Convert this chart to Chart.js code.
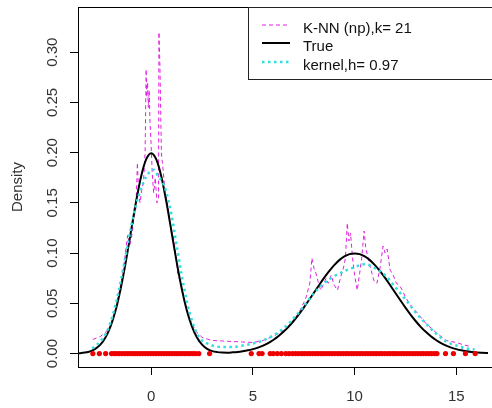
<!DOCTYPE html>
<html>
<head>
<meta charset="utf-8">
<script src="https://cdn.jsdelivr.net/npm/chart.js@4/dist/chart.umd.min.js"></script>
<style>
    html, body { margin: 0; padding: 0; background: #fff; }
    canvas { display: block; }
</style>
</head>
<body>
<canvas id="chart" width="492" height="408"></canvas>
<script>
// true mixture density
const trueX = [-3.75, -3.5, -3.25, -3, -2.75, -2.5, -2.25, -2, -1.75, -1.5, -1.25, -1, -0.75, -0.5, -0.25, 0,
    0.25, 0.5, 0.75, 1, 1.25, 1.5, 1.75, 2, 2.25, 2.5, 2.75, 3, 3.25, 3.5, 3.75, 4, 4.25, 4.5, 4.75, 5,
    5.25, 5.5, 5.75, 6, 6.25, 6.5, 6.75, 7, 7.25, 7.5, 7.75, 8, 8.25, 8.5, 8.75, 9, 9.25, 9.5, 9.75, 10,
    10.25, 10.5, 10.75, 11, 11.25, 11.5, 11.75, 12, 12.25, 12.5, 12.75, 13, 13.25, 13.5, 13.75, 14,
    14.25, 14.5, 14.75, 15, 15.25, 15.5, 15.75, 16, 16.5, 17];
const trueY = [0.0002, 0.0004, 0.001, 0.0022, 0.0046, 0.0088, 0.0159, 0.027, 0.0431, 0.0648, 0.0913, 0.121, 0.1506, 0.176, 0.1933, 0.1995,
    0.1933, 0.176, 0.1506, 0.121, 0.0913, 0.0648, 0.0431, 0.027, 0.016, 0.0089, 0.0047, 0.0024, 0.0014, 0.001, 0.0009, 0.0012, 0.0016, 0.0023, 0.0032, 0.0044,
    0.0059, 0.0079, 0.0104, 0.0135, 0.0172, 0.0216, 0.0266, 0.0324, 0.0388, 0.0457, 0.053, 0.0605, 0.068, 0.0753, 0.082, 0.088, 0.093, 0.0967, 0.099, 0.0997,
    0.099, 0.0967, 0.093, 0.088, 0.082, 0.0753, 0.068, 0.0605, 0.053, 0.0457, 0.0388, 0.0324, 0.0266, 0.0216, 0.0172, 0.0135,
    0.0104, 0.0079, 0.0059, 0.0044, 0.0032, 0.0023, 0.0016, 0.0011, 0.0005, 0.0002];

// K-NN estimate (magenta, dashed)
const knnX = [-2.87, -2.5, -2.2, -2, -1.8, -1.6, -1.45, -1.3, -1.2, -1.15, -1.05, -0.95, -0.85, -0.75, -0.68, -0.62,
    -0.55, -0.45, -0.38, -0.3, -0.25, -0.22, -0.18, -0.14, -0.1, -0.06, -0.02, 0.05, 0.12, 0.2, 0.28, 0.36,
    0.38, 0.43, 0.5, 0.55, 0.62, 0.7, 0.8, 0.9, 1, 1.1, 1.2, 1.3, 1.45, 1.6, 1.8, 2, 2.2, 2.5, 3, 3.5,
    4, 4.5, 5, 5.5, 6, 6.5, 6.9, 7.3, 7.6, 7.8, 7.9, 8, 8.1, 8.2, 8.33, 8.45, 8.6, 8.7, 8.85, 9, 9.16,
    9.3, 9.45, 9.55, 9.64, 9.72, 9.8, 9.9, 10, 10.13, 10.25, 10.35, 10.47, 10.55, 10.7, 10.85, 10.96,
    11.1, 11.25, 11.4, 11.5, 11.6, 11.75, 11.9, 12.05, 12.2, 12.35, 12.5, 12.8, 13.1, 13.5, 14, 14.5,
    15, 15.3, 15.7];
const knnY = [0.014, 0.017, 0.022, 0.028, 0.04, 0.058, 0.075, 0.095, 0.112, 0.118, 0.108, 0.118, 0.135, 0.145, 0.19, 0.16,
    0.15, 0.165, 0.17, 0.2, 0.283, 0.255, 0.27, 0.245, 0.262, 0.23, 0.215, 0.18, 0.16, 0.175, 0.15, 0.155,
    0.32, 0.285, 0.2, 0.19, 0.175, 0.16, 0.15, 0.135, 0.122, 0.115, 0.1, 0.08, 0.07, 0.055, 0.04, 0.03, 0.022, 0.016, 0.013, 0.0125,
    0.012, 0.0115, 0.011, 0.013, 0.017, 0.023, 0.03, 0.042, 0.055, 0.07, 0.095, 0.085, 0.08, 0.072, 0.063, 0.068, 0.075, 0.07, 0.078, 0.068, 0.063,
    0.075, 0.085, 0.095, 0.13, 0.112, 0.12, 0.095, 0.078, 0.063, 0.08, 0.095, 0.122, 0.105, 0.092, 0.08, 0.072,
    0.07, 0.085, 0.107, 0.1, 0.104, 0.083, 0.078, 0.07, 0.068, 0.063, 0.056, 0.047, 0.04, 0.03, 0.021, 0.013,
    0.011, 0.009, 0.007];

// kernel estimate (cyan, dotted)
const kernelX = [-2.9, -2.5, -2.25, -2, -1.75, -1.5, -1.25, -1, -0.75, -0.5, -0.25, 0, 0.15, 0.35, 0.55, 0.75,
    1, 1.25, 1.5, 1.75, 2, 2.25, 2.5, 2.75, 3, 3.5, 4, 4.5, 5, 5.5, 6, 6.5, 7, 7.5, 8, 8.5, 9, 9.5,
    10, 10.5, 11, 11.5, 12, 12.5, 13, 13.5, 14, 14.5, 15, 15.5, 15.9];
const kernelY = [0.005, 0.012, 0.019, 0.031, 0.049, 0.072, 0.098, 0.125, 0.148, 0.164, 0.176, 0.182, 0.183, 0.176, 0.171, 0.16,
    0.138, 0.108, 0.078, 0.052, 0.033, 0.02, 0.013, 0.01, 0.008, 0.0065, 0.0065, 0.008, 0.01, 0.013, 0.018, 0.025, 0.035, 0.047, 0.06, 0.07, 0.077, 0.082,
    0.086, 0.089, 0.085, 0.078, 0.066, 0.054, 0.041, 0.03, 0.02, 0.012, 0.008, 0.005, 0.004];

// sample points on the zero line
const rugX = [-2.87, -2.55, -2.24, -1.95, -1.82, -1.7, -1.57, -1.44, -1.3, -1.17, -1.05, -0.92, -0.8, -0.67, -0.54,
    -0.41, -0.28, -0.16, -0.03, 0.1, 0.23, 0.36, 0.49, 0.62, 0.75, 0.88, 1.01, 1.14, 1.27, 1.4, 1.53, 1.66,
    1.79, 1.92, 2.05, 2.18, 2.34, 2.87, 4.92, 5.3, 5.45, 5.85, 6.0, 6.2, 6.4, 6.62, 6.78, 6.95, 7.1, 7.25,
    7.4, 7.53, 7.67, 7.8, 7.94, 8.08, 8.21, 8.35, 8.48, 8.62, 8.76, 8.9, 9.03, 9.17, 9.3, 9.44, 9.58, 9.71,
    9.85, 9.98, 10.12, 10.26, 10.39, 10.53, 10.66, 10.8, 10.94, 11.07, 11.21, 11.34, 11.48, 11.62, 11.75,
    11.89, 12.02, 12.16, 12.3, 12.43, 12.57, 12.7, 12.84, 12.98, 13.11, 13.25, 13.38, 13.52, 13.66, 13.79,
    13.93, 14.05, 14.47, 14.86, 15.45, 15.93];

const xTickValues = [0, 5, 10, 15];
const yTickValues = [0, 0.05, 0.1, 0.15, 0.2, 0.25, 0.3];
const yTickLabels = ["0.00", "0.05", "0.10", "0.15", "0.20", "0.25", "0.30"];
const legendLabels = ["K-NN (np),k= 21", "True", "kernel,h= 0.97"];

const FONT = "'Liberation Sans', Arial, sans-serif";
const MAGENTA = "#e020e0";
const CYAN = "#30dede";

const toPoints = (xs, ys) => xs.map((x, i) => ({ x, y: ys[i] }));

const framePlugin = {
    id: "r-frame",
    afterDraw(chart) {
        const { ctx, chartArea, scales: { y } } = chart;
        ctx.save();

        // plot box (right side runs off the picture)
        ctx.strokeStyle = "#000";
        ctx.lineWidth = 1;
        ctx.strokeRect(chartArea.left + 0.5, chartArea.top + 0.5, 520, chartArea.bottom - chartArea.top);

        // rotated y tick labels
        ctx.fillStyle = "#333";
        ctx.font = `15px ${FONT}`;
        ctx.textAlign = "center";
        ctx.textBaseline = "alphabetic";
        yTickValues.forEach((v, i) => {
            ctx.save();
            ctx.translate(57, y.getPixelForValue(v));
            ctx.rotate(-Math.PI / 2);
            ctx.fillText(yTickLabels[i], 0, 0);
            ctx.restore();
        });

        // axis title
        ctx.save();
        ctx.translate(22, (chartArea.top + chartArea.bottom) / 2);
        ctx.rotate(-Math.PI / 2);
        ctx.fillText("Density", 0, 0);
        ctx.restore();

        // legend
        const lx = 248.5;
        const ly = 7.5;
        ctx.fillStyle = "#fff";
        ctx.fillRect(lx, ly, 260, 72);
        ctx.strokeStyle = "#222";
        ctx.strokeRect(lx, ly, 260, 72);

        const rows = [
            { y: 25, color: MAGENTA, width: 1.2, dash: [4, 3] },
            { y: 43, color: "#000", width: 2, dash: [] },
            { y: 62, color: CYAN, width: 2.5, dash: [2.5, 3.5] },
        ];
        rows.forEach((row, i) => {
            ctx.beginPath();
            ctx.strokeStyle = row.color;
            ctx.lineWidth = row.width;
            ctx.setLineDash(row.dash);
            ctx.moveTo(262, row.y);
            ctx.lineTo(290, row.y);
            ctx.stroke();
            ctx.setLineDash([]);
            ctx.fillStyle = "#111";
            ctx.textAlign = "left";
            ctx.fillText(legendLabels[i], 303, row.y + 8);
        });

        ctx.restore();
    },
};

new Chart(document.getElementById("chart"), {
    type: "line",
    data: {
        datasets: [
            {
                label: "rug",
                type: "scatter",
                data: rugX.map((x) => ({ x, y: 0 })),
                showLine: false,
                pointRadius: 2.6,
                pointBackgroundColor: "#ee0000",
                pointBorderWidth: 0,
                order: 0,
            },
            {
                label: legendLabels[2],
                data: toPoints(kernelX, kernelY),
                borderColor: CYAN,
                borderWidth: 2.5,
                borderDash: [2.5, 3.5],
                pointRadius: 0,
                cubicInterpolationMode: "monotone",
                order: 1,
            },
            {
                label: legendLabels[1],
                data: toPoints(trueX, trueY),
                borderColor: "#000",
                borderWidth: 2,
                pointRadius: 0,
                cubicInterpolationMode: "monotone",
                order: 2,
            },
            {
                label: legendLabels[0],
                data: toPoints(knnX, knnY),
                borderColor: MAGENTA,
                borderWidth: 1,
                borderDash: [4, 3],
                pointRadius: 0,
                tension: 0,
                order: 3,
            },
        ],
    },
    options: {
        responsive: false,
        animation: false,
        devicePixelRatio: 1,
        layout: { padding: { top: 7, right: 0, left: 0, bottom: 0 } },
        plugins: {
            legend: { display: false },
            tooltip: { enabled: false },
        },
        scales: {
            x: {
                type: "linear",
                min: -3.6,
                max: 16.56,
                afterBuildTicks: (axis) => {
                    axis.ticks = xTickValues.map((value) => ({ value }));
                },
                afterFit: (axis) => {
                    axis.height = 41;
                },
                grid: { drawOnChartArea: false, tickLength: 8, color: "#000" },
                border: { display: false },
                ticks: {
                    color: "#333",
                    font: { family: FONT, size: 15 },
                    padding: 13,
                    maxRotation: 0,
                    autoSkip: false,
                },
            },
            y: {
                type: "linear",
                min: -0.0134,
                max: 0.345,
                afterBuildTicks: (axis) => {
                    axis.ticks = yTickValues.map((value) => ({ value }));
                },
                afterFit: (axis) => {
                    axis.width = 78;
                },
                grid: { drawOnChartArea: false, tickLength: 8, color: "#000" },
                border: { display: false },
                ticks: { display: false },
            },
        },
    },
    plugins: [framePlugin],
});
</script>
</body>
</html>
